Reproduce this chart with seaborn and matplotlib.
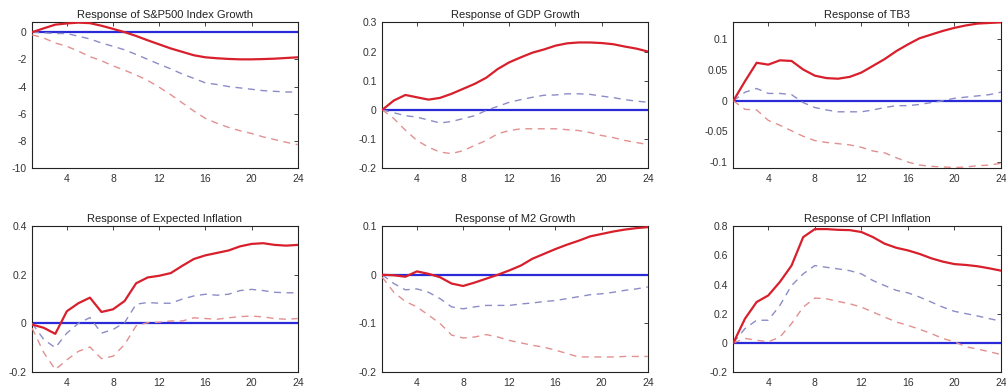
import numpy as np
import pandas as pd
import matplotlib
matplotlib.use("Agg")
import matplotlib.pyplot as plt
import seaborn as sns

# horizons
horizon = list(range(1, 25))

titles = ["Response of S&P500 Index Growth", "Response of GDP Growth", "Response of TB3",
          "Response of Expected Inflation", "Response of M2 Growth", "Response of CPI Inflation"]

# S&P500
sp_resp = [0.0, 0.28, 0.55, 0.64, 0.7, 0.66, 0.47, 0.24, 0.0, -0.28, -0.6, -0.9,
           -1.2, -1.45, -1.7, -1.85, -1.92, -1.97, -2.0, -2.0, -1.98, -1.95, -1.9, -1.85]
sp_up = [0.0, -0.05, -0.1, -0.1, -0.3, -0.5, -0.8, -1.04, -1.3, -1.64, -2.0, -2.36,
         -2.7, -3.08, -3.4, -3.73, -3.85, -4.0, -4.1, -4.2, -4.3, -4.35, -4.4, -4.4]
sp_lo = [-0.2, -0.43, -0.8, -1.04, -1.4, -1.8, -2.1, -2.48, -2.8, -3.15, -3.55, -4.05,
         -4.6, -5.2, -5.8, -6.34, -6.7, -7.0, -7.25, -7.45, -7.7, -7.9, -8.1, -8.27]

# GDP
gdp_resp = [0.0, 0.032, 0.051, 0.043, 0.035, 0.041, 0.055, 0.072, 0.089, 0.11, 0.14, 0.163,
            0.18, 0.196, 0.207, 0.22, 0.228, 0.231, 0.231, 0.229, 0.225, 0.217, 0.21, 0.2]
gdp_up = [0.0, -0.01, -0.02, -0.025, -0.035, -0.045, -0.04, -0.03, -0.02, -0.002, 0.012, 0.026,
          0.035, 0.043, 0.05, 0.051, 0.055, 0.055, 0.053, 0.047, 0.042, 0.035, 0.03, 0.026]
gdp_lo = [0.0, -0.03, -0.07, -0.105, -0.128, -0.145, -0.15, -0.14, -0.122, -0.105, -0.082, -0.071,
          -0.065, -0.065, -0.065, -0.065, -0.068, -0.071, -0.078, -0.088, -0.095, -0.105, -0.112, -0.119]

# TB3
tb3_resp = [0.0, 0.032, 0.062, 0.059, 0.066, 0.065, 0.051, 0.041, 0.037, 0.036, 0.039, 0.046,
            0.057, 0.068, 0.081, 0.092, 0.102, 0.108, 0.114, 0.119, 0.123, 0.126, 0.127, 0.128]
tb3_up = [0.0, 0.014, 0.02, 0.012, 0.012, 0.01, -0.003, -0.011, -0.015, -0.018, -0.018, -0.018,
          -0.015, -0.011, -0.008, -0.008, -0.006, -0.003, 0.0, 0.004, 0.006, 0.008, 0.01, 0.014]
tb3_lo = [0.0, -0.014, -0.015, -0.032, -0.04, -0.049, -0.058, -0.065, -0.068, -0.07, -0.072, -0.076,
          -0.082, -0.085, -0.093, -0.1, -0.105, -0.107, -0.108, -0.109, -0.108, -0.106, -0.105, -0.102]

# Expected inflation
ei_resp = [-0.005, -0.018, -0.043, 0.05, 0.083, 0.106, 0.047, 0.058, 0.092, 0.165, 0.189, 0.196,
           0.207, 0.237, 0.265, 0.28, 0.29, 0.3, 0.317, 0.327, 0.33, 0.323, 0.32, 0.323]
ei_up = [0.0, -0.066, -0.1, -0.04, 0.0, 0.024, -0.04, -0.025, 0.003, 0.079, 0.086, 0.083,
         0.083, 0.1, 0.113, 0.12, 0.116, 0.12, 0.135, 0.14, 0.135, 0.128, 0.126, 0.126]
ei_lo = [-0.02, -0.12, -0.19, -0.15, -0.115, -0.097, -0.145, -0.135, -0.087, -0.01, 0.003, 0.005,
         0.01, 0.01, 0.023, 0.02, 0.017, 0.023, 0.028, 0.03, 0.027, 0.02, 0.017, 0.02]

# M2
m2_resp = [0.0, -0.001, -0.004, 0.007, 0.002, -0.005, -0.018, -0.023, -0.016, -0.008, 0.0, 0.009,
           0.019, 0.033, 0.043, 0.053, 0.062, 0.07, 0.079, 0.084, 0.089, 0.093, 0.096, 0.098]
m2_up = [0.0, -0.018, -0.031, -0.029, -0.036, -0.049, -0.066, -0.07, -0.066, -0.063, -0.063, -0.063,
         -0.06, -0.058, -0.055, -0.053, -0.049, -0.045, -0.041, -0.039, -0.036, -0.032, -0.029, -0.025]
m2_lo = [-0.005, -0.036, -0.055, -0.066, -0.083, -0.1, -0.124, -0.13, -0.128, -0.123, -0.128, -0.135,
         -0.14, -0.145, -0.149, -0.155, -0.162, -0.169, -0.169, -0.169, -0.169, -0.168, -0.168, -0.168]

# CPI
cpi_resp = [0.0, 0.166, 0.28, 0.325, 0.418, 0.53, 0.725, 0.78, 0.78, 0.775, 0.773, 0.76,
            0.725, 0.68, 0.652, 0.634, 0.61, 0.58, 0.557, 0.54, 0.534, 0.525, 0.511, 0.495]
cpi_up = [0.0, 0.098, 0.155, 0.155, 0.257, 0.393, 0.473, 0.53, 0.518, 0.507, 0.495, 0.473,
          0.427, 0.393, 0.36, 0.343, 0.314, 0.28, 0.245, 0.216, 0.2, 0.184, 0.166, 0.148]
cpi_lo = [0.0, 0.03, 0.018, 0.007, 0.04, 0.132, 0.245, 0.307, 0.302, 0.284, 0.268, 0.245,
          0.211, 0.177, 0.143, 0.12, 0.093, 0.064, 0.03, 0.007, -0.027, -0.043, -0.061, -0.08]

series = [(sp_resp, sp_up, sp_lo), (gdp_resp, gdp_up, gdp_lo), (tb3_resp, tb3_up, tb3_lo),
          (ei_resp, ei_up, ei_lo), (m2_resp, m2_up, m2_lo), (cpi_resp, cpi_up, cpi_lo)]

ylims = [(-10, 0.72), (-0.2, 0.3), (-0.11, 0.128), (-0.2, 0.4), (-0.2, 0.1), (-0.2, 0.8)]
yticks = [[0, -2, -4, -6, -8, -10], [-0.2, -0.1, 0, 0.1, 0.2, 0.3], [-0.1, -0.05, 0, 0.05, 0.1],
          [-0.2, 0, 0.2, 0.4], [-0.2, -0.1, 0, 0.1], [-0.2, 0, 0.2, 0.4, 0.6, 0.8]]
yticklabels = [["0", "-2", "-4", "-6", "-8", "-10"], ["-0.2", "-0.1", "0", "0.1", "0.2", "0.3"],
               ["-0.1", "-0.05", "0", "0.05", "0.1"], ["-0.2", "0", "0.2", "0.4"],
               ["-0.2", "-0.1", "0", "0.1"], ["-0.2", "0", "0.2", "0.4", "0.6", "0.8"]]
xticks = [4, 8, 12, 16, 20, 24]

sns.set_style("white")
plt.rcParams['font.family'] = ['Liberation Sans', 'DejaVu Sans']

fig = plt.figure(figsize=(10.06, 3.92), dpi=100)
lefts = [0.032, 0.380, 0.729]
bottoms = [0.571, 0.051]
widths = [0.264, 0.264, 0.266]
heights = [0.372, 0.372]

for i in range(6):
    r, c = divmod(i, 3)
    ax = fig.add_axes([lefts[c], bottoms[r], widths[c], heights[r]])
    resp, up, lo = series[i]
    df = pd.DataFrame({"h": horizon, "resp": resp, "up": up, "lo": lo})
    ax.axhline(0, color="#2a2ad8", lw=1.6, zorder=2)
    sns.lineplot(data=df, x="h", y="up", ax=ax, color="#8c8cc8", lw=1.0,
                 linestyle=(0, (5, 4)), zorder=3)
    sns.lineplot(data=df, x="h", y="lo", ax=ax, color="#e29090", lw=1.0,
                 linestyle=(0, (5, 4)), zorder=3)
    sns.lineplot(data=df, x="h", y="resp", ax=ax, color="#d8202c", lw=1.6, zorder=4)
    ax.set_xlim(1, 24)
    ax.set_ylim(*ylims[i])
    ax.set_xticks(xticks)
    ax.set_yticks(yticks[i])
    ax.set_yticklabels(yticklabels[i])
    ax.set_xlabel("")
    ax.set_ylabel("")
    ax.tick_params(direction="in", length=3, width=0.6, top=True, right=True,
                   labelsize=7.5, labelcolor="#333333", pad=4)
    for s in ax.spines.values():
        s.set_color("#222222")
        s.set_linewidth(0.8)
    ax.set_title(titles[i], fontsize=8, color="#222222", pad=3)

fig.savefig("out.png", dpi=100)
